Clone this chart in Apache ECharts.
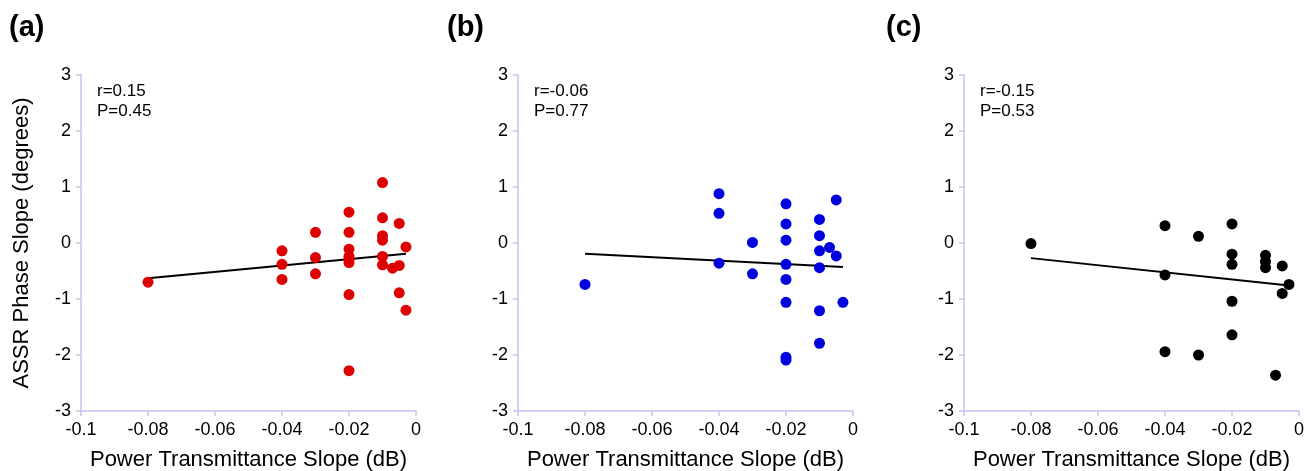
<!DOCTYPE html>
<html>
<head>
<meta charset="utf-8">
<style>
  html, body { margin: 0; padding: 0; background: #fff; }
  #chart { width: 1313px; height: 471px; }
</style>
<script src="https://cdn.jsdelivr.net/npm/echarts@6/dist/echarts.min.js"></script>
</head>
<body>
<div id="chart"></div>
<script>
// Panel (a): red subjects
const xA = [-0.08, -0.04, -0.04, -0.04, -0.03, -0.03, -0.03,
  -0.02, -0.02, -0.02, -0.02, -0.02, -0.02, -0.02, -0.02,
  -0.01, -0.01, -0.01, -0.01, -0.01, -0.01,
  -0.007, -0.005, -0.005, -0.005, -0.003, -0.003];
const yA = [-0.70, -0.14, -0.38, -0.65, 0.19, -0.26, -0.55,
  0.55, 0.19, -0.11, -0.24, -0.29, -0.35, -0.92, -2.28,
  1.08, 0.45, 0.13, 0.05, -0.24, -0.39,
  -0.45, 0.35, -0.40, -0.89, -0.07, -1.20];
const fitXA = [-0.08, -0.003];
const fitYA = [-0.63, -0.19];

// Panel (b): blue subjects
const xB = [-0.08, -0.04, -0.04, -0.04, -0.03, -0.03,
  -0.02, -0.02, -0.02, -0.02, -0.02, -0.02, -0.02, -0.02,
  -0.01, -0.01, -0.01, -0.01, -0.01, -0.01,
  -0.007, -0.005, -0.005, -0.003];
const yB = [-0.74, 0.88, 0.53, -0.36, 0.01, -0.55,
  0.70, 0.34, 0.05, -0.38, -0.65, -1.06, -2.04, -2.09,
  0.42, 0.13, -0.14, -0.44, -1.21, -1.79,
  -0.08, 0.77, -0.23, -1.06];
const fitXB = [-0.08, -0.003];
const fitYB = [-0.19, -0.43];

// Panel (c): black subjects
const xC = [-0.08, -0.04, -0.04, -0.04, -0.03, -0.03,
  -0.02, -0.02, -0.02, -0.02, -0.02,
  -0.01, -0.01, -0.01,
  -0.007, -0.005, -0.005, -0.003];
const yC = [-0.01, 0.31, -0.57, -1.94, 0.12, -2.00,
  0.34, -0.20, -0.38, -1.04, -1.64,
  -0.22, -0.33, -0.44,
  -2.36, -0.41, -0.90, -0.74];
const fitXC = [-0.08, -0.003];
const fitYC = [-0.27, -0.76];

const panelLabels = ['(a)', '(b)', '(c)'];
const statR = ['r=0.15', 'r=-0.06', 'r=-0.15'];
const statP = ['P=0.45', 'P=0.77', 'P=0.53'];
const xTickValues = [-0.1, -0.08, -0.06, -0.04, -0.02, 0];
const xTickLabels = ['-0.1', '-0.08', '-0.06', '-0.04', '-0.02', '0'];
const yTickValues = [-3, -2, -1, 0, 1, 2, 3];
const yTickLabels = ['-3', '-2', '-1', '0', '1', '2', '3'];
const xTitle = 'Power Transmittance Slope (dB)';
const yTitle = 'ASSR Phase Slope (degrees)';

const panels = [
  { x: xA, y: yA, fx: fitXA, fy: fitYA, color: '#dd0000' },
  { x: xB, y: yB, fx: fitXB, fy: fitYB, color: '#0000dd' },
  { x: xC, y: yC, fx: fitXC, fy: fitYC, color: '#000000' }
];

const FONT = 'Liberation Sans, Arial, sans-serif';
const AXIS_COLOR = '#c4c4ee';
const gridLefts = [81, 518, 964];
const labelLefts = [9, 447, 886];

function lookup(values, labels, v) {
  for (let i = 0; i < values.length; i++) {
    if (Math.abs(values[i] - v) < 1e-9) return labels[i];
  }
  return '';
}

const grids = [], xAxes = [], yAxes = [], series = [], graphics = [];
panels.forEach((p, i) => {
  grids.push({
    left: gridLefts[i], top: 75, width: 335, height: 336,
    containLabel: false, outerBoundsMode: 'none'
  });
  xAxes.push({
    gridIndex: i, type: 'value', min: -0.1, max: 0, interval: 0.02,
    name: xTitle, nameLocation: 'middle', nameGap: 38,
    nameTextStyle: { fontFamily: FONT, fontSize: 22, color: '#000' },
    axisLine: { show: true, onZero: false, lineStyle: { color: AXIS_COLOR, width: 1.5 } },
    axisTick: { show: true, length: 5, lineStyle: { color: AXIS_COLOR, width: 1.5 } },
    splitLine: { show: false },
    axisLabel: {
      margin: 10, fontFamily: FONT, fontSize: 18, color: '#000',
      formatter: v => lookup(xTickValues, xTickLabels, v)
    }
  });
  yAxes.push({
    gridIndex: i, type: 'value', min: -3, max: 3, interval: 1,
    name: i === 0 ? yTitle : '', nameLocation: 'middle', nameGap: 48,
    nameTextStyle: { fontFamily: FONT, fontSize: 22, color: '#000' },
    axisLine: { show: true, onZero: false, lineStyle: { color: AXIS_COLOR, width: 1.5 } },
    axisTick: { show: true, length: 5, lineStyle: { color: AXIS_COLOR, width: 1.5 } },
    splitLine: { show: false },
    axisLabel: {
      margin: 10, fontFamily: FONT, fontSize: 18, color: '#000',
      formatter: v => lookup(yTickValues, yTickLabels, v)
    }
  });
  // regression line between the fitted endpoints
  series.push({
    type: 'line', xAxisIndex: i, yAxisIndex: i, z: 1,
    data: p.fx.map((v, k) => [v, p.fy[k]]),
    symbol: 'none', silent: true,
    lineStyle: { color: '#000', width: 2 }
  });
  series.push({
    type: 'scatter', xAxisIndex: i, yAxisIndex: i, z: 3,
    data: p.x.map((v, k) => [v, p.y[k]]),
    symbolSize: 11,
    itemStyle: { color: p.color, opacity: 1 }
  });
  graphics.push({
    type: 'text', left: labelLefts[i], top: 13,
    style: { text: panelLabels[i], font: 'bold 29px ' + FONT, fill: '#000' }
  });
  graphics.push({
    type: 'text', left: gridLefts[i] + 16, top: 81,
    style: { text: statR[i] + '\n' + statP[i], font: '17px ' + FONT, fill: '#000', lineHeight: 20 }
  });
});

const chart = echarts.init(document.getElementById('chart'), null, { renderer: 'canvas' });
chart.setOption({
  backgroundColor: '#fff',
  animation: false,
  grid: grids,
  xAxis: xAxes,
  yAxis: yAxes,
  series: series,
  graphic: graphics
});
</script>
</body>
</html>
